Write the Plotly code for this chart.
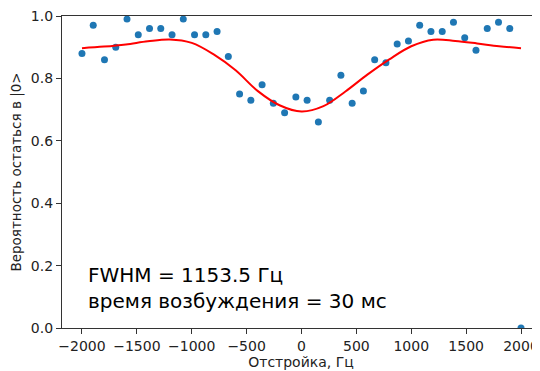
import plotly.graph_objects as go

# Measured detuning points (Hz)
detuning = [-2000, -1897.4, -1794.9, -1692.3, -1589.7, -1487.2, -1384.6, -1282.1,
            -1179.5, -1076.9, -974.4, -871.8, -769.2, -666.7, -564.1, -461.5,
            -359.0, -256.4, -153.8, -51.3, 51.3, 153.8, 256.4, 359.0, 461.5,
            564.1, 666.7, 769.2, 871.8, 974.4, 1076.9, 1179.5, 1282.1, 1384.6,
            1487.2, 1589.7, 1692.3, 1794.9, 1897.4, 2000]
probability = [0.88, 0.97, 0.86, 0.90, 0.99, 0.94, 0.96, 0.96, 0.94, 0.99,
               0.94, 0.94, 0.95, 0.87, 0.75, 0.73, 0.78, 0.72, 0.69, 0.74,
               0.73, 0.66, 0.73, 0.81, 0.72, 0.76, 0.86, 0.85, 0.91, 0.92,
               0.97, 0.95, 0.95, 0.98, 0.93, 0.89, 0.96, 0.98, 0.96, 0.00]

# Fit curve
fit_x = [-2000, -1800, -1600, -1400, -1200, -1000, -800, -600, -400, -200, 0,
         200, 400, 600, 800, 1000, 1200, 1400, 1600, 1800, 2000]
fit_y = [0.897, 0.902, 0.909, 0.919, 0.925, 0.914, 0.877, 0.826, 0.760, 0.714, 0.694,
         0.711, 0.758, 0.812, 0.861, 0.903, 0.924, 0.920, 0.912, 0.903, 0.897]

x_ticks = [-2000, -1500, -1000, -500, 0, 500, 1000, 1500, 2000]
x_tick_labels = ["\u22122000", "\u22121500", "\u22121000", "\u2212500", "0", "500", "1000", "1500", "2000"]
y_ticks = [0.0, 0.2, 0.4, 0.6, 0.8, 1.0]
y_tick_labels = ["0.0", "0.2", "0.4", "0.6", "0.8", "1.0"]

font_family = "DejaVu Sans"
axis_color = "#333333"

fig = go.Figure()
fig.add_trace(go.Scatter(x=detuning, y=probability, mode="markers",
                         marker=dict(color="#1f77b4", size=7), showlegend=False))
fig.add_trace(go.Scatter(x=fit_x, y=fit_y, mode="lines",
                         line=dict(color="red", width=2, shape="spline", smoothing=1.0),
                         showlegend=False))

fig.add_annotation(x=-1960, y=0.042, xref="x", yref="y", xanchor="left", yanchor="bottom",
                   text="FWHM = 1153.5 Гц<br>время возбуждения = 30 мс",
                   showarrow=False, align="left",
                   font=dict(family=font_family, size=20, color="black"))

# the page body adds an 8px margin, so the figure is 8px smaller than the window
fig.update_layout(
    width=532, height=363,
    margin=dict(l=54, r=0, t=8, b=43),
    paper_bgcolor="white", plot_bgcolor="white",
    font=dict(family=font_family, size=14, color="#222222"),
    xaxis=dict(range=[-2182, 2173], tickvals=x_ticks, ticktext=x_tick_labels,
               automargin=False, ticklabeloverflow="allow",
               showgrid=False, zeroline=False, showline=True, linecolor=axis_color,
               linewidth=1.2, mirror=True, ticks="outside", ticklen=5, tickcolor=axis_color,
               title=dict(text="Отстройка, Гц", standoff=3, font=dict(size=14)),
               tickfont=dict(size=14)),
    yaxis=dict(range=[0, 1.0], tickvals=y_ticks, ticktext=y_tick_labels,
               automargin=False, ticklabeloverflow="allow",
               showgrid=False, zeroline=False, showline=True, linecolor=axis_color,
               linewidth=1.2, ticks="outside", ticklen=5, tickcolor=axis_color,
               title=dict(text="Вероятность остаться в |0>", standoff=6, font=dict(size=13.5)),
               tickfont=dict(size=14)),
)

fig.write_html("out.html")
